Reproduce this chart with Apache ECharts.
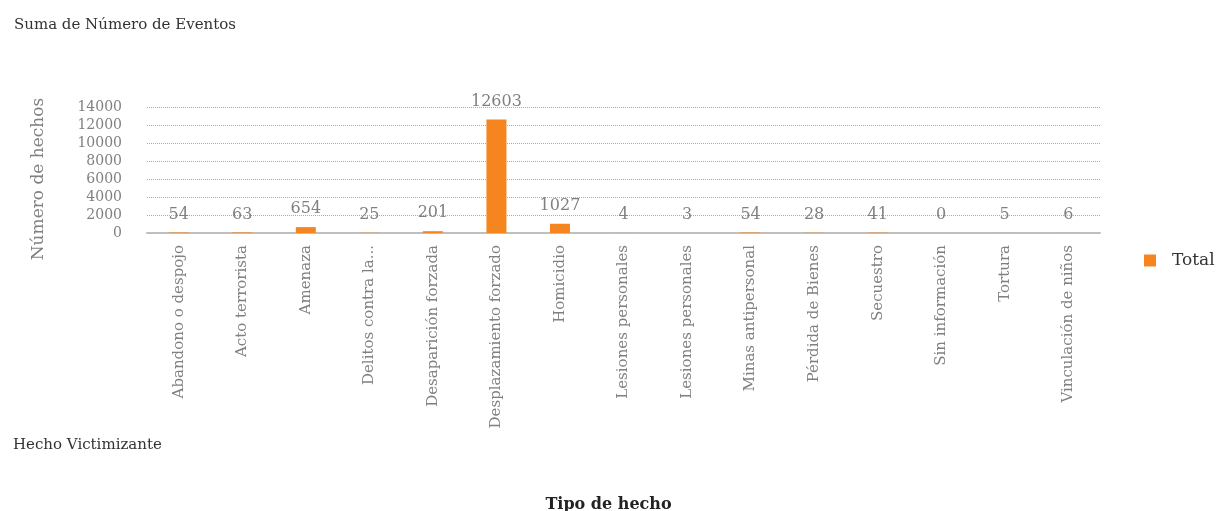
<!DOCTYPE html>
<html><head><meta charset="utf-8">
<script src="https://cdn.jsdelivr.net/npm/echarts@6/dist/echarts.min.js"></script>
<style>html,body{margin:0;padding:0;background:#fff}#c{width:1217px;height:511px}</style>
</head><body><div id="c"></div>
<script>
const categories = ["Abandono o despojo","Acto terrorista","Amenaza","Delitos contra la...","Desaparición forzada","Desplazamiento forzado","Homicidio","Lesiones personales","Lesiones personales","Minas antipersonal","Pérdida de Bienes","Secuestro","Sin información","Tortura","Vinculación de niños"];
const totals = [54,63,654,25,201,12603,1027,4,3,54,28,41,0,5,6];
const yTicks = [0,2000,4000,6000,8000,10000,12000,14000];
const seriesName = "Total";
const yAxisName = "Número de hechos";
const FONT = "DejaVu Serif";
const chart = echarts.init(document.getElementById('c'));
chart.setOption({
  animation:false,
  textStyle:{fontFamily:FONT},
  title:[
    {text:"Suma de Número de Eventos",left:9,top:13,textStyle:{fontFamily:FONT,fontSize:15,fontWeight:'normal',color:'#333'}},
    {text:"Hecho Victimizante",left:8,top:433,textStyle:{fontFamily:FONT,fontSize:15,fontWeight:'normal',color:'#333'}},
    {text:"Tipo de hecho",left:'center',top:492,textStyle:{fontFamily:FONT,fontSize:16,fontWeight:'bold',color:'#222'}}
  ],
  graphic:[{type:'text',x:39,y:179,rotation:Math.PI/2,
    style:{text:yAxisName,align:'center',verticalAlign:'middle',fill:'#808080',fontFamily:FONT,fontSize:17}}],
  legend:{data:[seriesName],left:1139,top:247,icon:'rect',itemWidth:12,itemHeight:12,itemGap:16,
    textStyle:{fontFamily:FONT,fontSize:17,color:'#333',padding:[0,0,0,11]}},
  grid:{left:147,right:117,top:107,bottom:278,containLabel:false},
  xAxis:{type:'category',data:categories,
    axisLine:{lineStyle:{color:'#bfbfbf',width:2}},axisTick:{show:false},
    axisLabel:{rotate:90,interval:0,margin:12,color:'#808080',fontSize:15,fontFamily:FONT}},
  yAxis:{type:'value',min:0,max:14000,interval:2000,
    axisLabel:{color:'#808080',fontSize:14,fontFamily:FONT,margin:25,
      formatter:v=>yTicks.includes(v)?String(v):''},
    splitLine:{lineStyle:{type:'dotted',color:'#aaa',width:1}},
    axisLine:{show:false},axisTick:{show:false}},
  series:[{name:seriesName,type:'bar',data:totals,barWidth:20,
    itemStyle:{color:'#F5861F'},
    label:{show:true,position:'top',distance:10,color:'#808080',fontSize:16,fontFamily:FONT}}]
});
</script></body></html>
